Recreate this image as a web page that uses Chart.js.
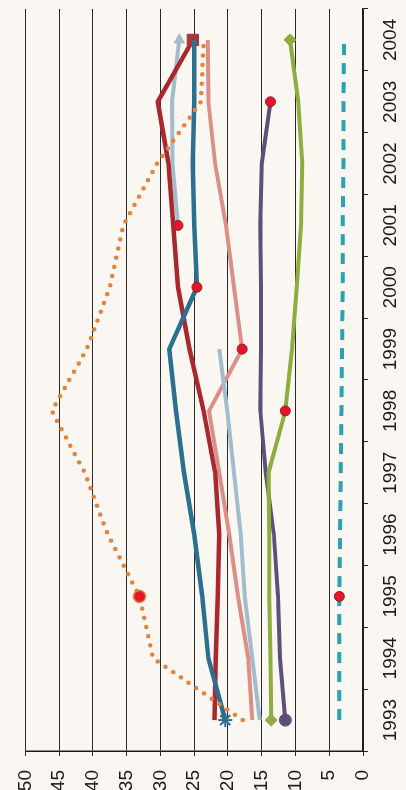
<!DOCTYPE html>
<html>
<head>
<meta charset="utf-8">
<script src="https://cdn.jsdelivr.net/npm/chart.js@4.4.0/dist/chart.umd.min.js"></script>
<style>
  html, body { margin: 0; padding: 0; width: 406px; height: 790px; overflow: hidden; background: #faf7f2; }
  /* the chart is drawn landscape and turned a quarter turn, like the scanned page */
  #wrap { position: absolute; left: 0; top: 790px; width: 790px; height: 406px;
          transform-origin: 0 0; transform: rotate(-90deg); }
</style>
</head>
<body>
<div id="wrap"><canvas id="chart" width="790" height="406"></canvas></div>
<script>
// Data
const years = ['1993', '1994', '1995', '1996', '1997', '1998', '1999', '2000', '2001', '2002', '2003', '2004'];

const orangeDotted = [17.8, 31.1, 33.1, 37.8, 41.2, 46.1, 40.9, 37.5, 35.5, 30.5, 24.0, 23.6];
const darkBlue     = [20.4, 22.9, 23.8, 25.0, 26.5, 27.7, 28.7, 24.6, 25.0, 25.2, 25.0, 25.0];
const darkRed      = [22.0, 21.8, 21.5, 21.3, 21.9, 23.6, 25.7, 27.4, 28.1, 28.8, 30.4, 25.2];
const salmon       = [16.4, 17.0, 18.5, 19.8, 21.3, 22.8, 17.9, 19.1, 20.3, 21.9, 22.9, 23.0];
const lightBlue    = [15.3, 16.4, 17.5, 18.1, 19.1, 20.1, 21.3, null, 27.4, 28.2, 28.3, 27.2];
const green        = [13.6, 13.7, 13.9, 13.9, 14.0, 11.5, 10.5, 9.8, 9.2, 9.0, 9.6, 10.8];
const purple       = [11.5, 12.3, 12.6, 13.2, 14.4, 15.2, 15.1, 15.1, 15.2, 15.0, 13.7, null];
const tealDashed   = [3.5, 3.5, 3.5, 3.4, 3.3, 3.2, 3.1, 3.0, 3.0, 2.9, 2.9, 2.8];

const valueTicks = [0, 50, 5]; // min, max, step

const RED = '#e2172b';
const HI = { style: 'circle', r: 5, fill: RED, edge: '#9e1a22', bw: 1 };
const FONT = 'Liberation Sans, Arial, sans-serif';

// marks: index -> point look (everything else has no point)
const series = [
  { name: 'orange', values: orangeDotted, color: '#e5813a', width: 4.5, dash: [0, 9.4], cap: 'round',
    marks: { 2: { style: 'circle', r: 6, fill: RED, edge: '#e5813a', bw: 1.5 } } },
  { name: 'blue', values: darkBlue, color: '#2d6f8e', width: 4.5,
    marks: { 0: { style: 'star', r: 7, fill: '#2d6f8e', edge: '#2d6f8e', bw: 2 }, 7: HI } },
  { name: 'red', values: darkRed, color: '#a9282f', width: 4.5,
    marks: { 11: { style: 'rect', r: 8, fill: '#a9343a', edge: '#a9343a', bw: 1 } } },
  { name: 'lightblue', values: lightBlue, color: '#a2bccb', width: 4,
    marks: { 8: HI, 11: { style: 'triangle', r: 6, rot: 90, fill: '#a2bccb', edge: '#a2bccb', bw: 1 } } },
  { name: 'salmon', values: salmon, color: '#dc8f87', width: 4, marks: { 6: HI } },
  { name: 'green', values: green, color: '#8dad3d', width: 4,
    marks: { 0: { style: 'rectRot', r: 6, fill: '#8dad3d', edge: '#8dad3d', bw: 1 }, 5: HI,
             11: { style: 'rectRot', r: 6, fill: '#8dad3d', edge: '#8dad3d', bw: 1 } } },
  { name: 'purple', values: purple, color: '#5d4f78', width: 4,
    marks: { 0: { style: 'circle', r: 6, fill: '#5d4f78', edge: '#5d4f78', bw: 1 }, 10: HI } },
  { name: 'teal', values: tealDashed, color: '#2aa2b2', width: 4, dash: [11, 8], marks: { 2: HI } },
];

const mk = (s, c) => s.marks[c.dataIndex] || {};

const datasets = series.map(s => ({
  label: s.name,
  data: s.values,
  borderColor: s.color,
  borderWidth: s.width,
  borderDash: s.dash || [],
  borderCapStyle: s.cap || 'butt',
  borderJoinStyle: 'round',
  tension: 0,
  spanGaps: false,
  fill: false,
  pointStyle: c => mk(s, c).style || 'circle',
  pointRadius: c => mk(s, c).r || 0,
  pointRotation: c => mk(s, c).rot || 0,
  pointBackgroundColor: c => mk(s, c).fill || s.color,
  pointBorderColor: c => mk(s, c).edge || s.color,
  pointBorderWidth: c => mk(s, c).bw || 1,
  pointHoverRadius: 0
}));

new Chart(document.getElementById('chart'), {
  type: 'line',
  data: { labels: years, datasets },
  options: {
    responsive: false,
    devicePixelRatio: 1,
    animation: false,
    layout: { padding: { top: 21, right: 4, left: 0, bottom: 0 } },
    plugins: { legend: { display: false }, tooltip: { enabled: false } },
    scales: {
      x: {
        type: 'category',
        offset: true,
        grid: { display: true, drawOnChartArea: false, drawTicks: true, tickLength: 5, offset: true, color: '#222' },
        border: { display: true, color: '#1a1a1a', width: 1.5 },
        ticks: { color: '#1a1a1a', font: { family: FONT, size: 19 }, padding: 11, maxRotation: 0, autoSkip: false },
        afterFit: scale => { scale.height = 43; }
      },
      y: {
        min: valueTicks[0],
        max: valueTicks[1],
        grid: { color: '#2a2a2a', lineWidth: 1, tickLength: 5 },
        border: { display: true, color: '#1a1a1a', width: 1.5 },
        ticks: { stepSize: valueTicks[2], color: '#1a1a1a', font: { family: FONT, size: 19 }, padding: 14 },
        afterFit: scale => { scale.width = 39; }
      }
    }
  }
});
</script>
</body>
</html>
